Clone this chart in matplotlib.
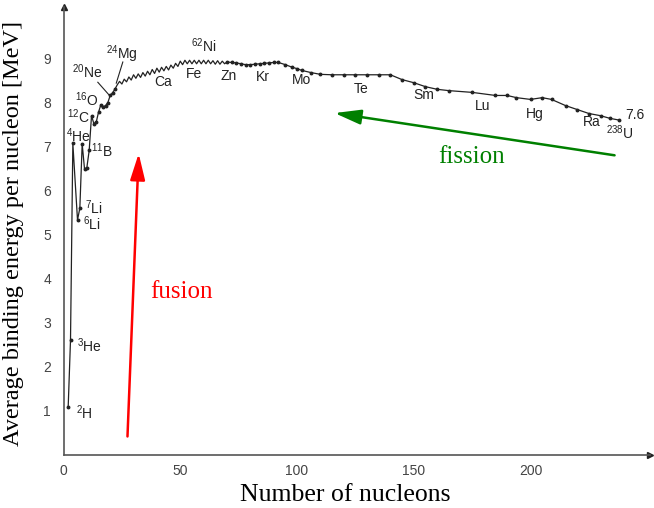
import matplotlib
matplotlib.use("Agg")
import matplotlib.pyplot as plt

# binding energy per nucleon
mass_numbers = [2, 3, 4, 6, 7, 8, 9, 10, 11, 12, 13, 14, 15, 16, 17, 18, 19, 20, 21, 22,
                23, 24, 25, 26, 27, 28, 29, 30, 31, 32, 33, 34, 35, 36, 37, 38, 39, 40,
                41, 42, 43, 44, 45, 46, 47, 48, 49, 50, 51, 52, 53, 54, 55, 56, 57, 58,
                59, 60, 61, 62, 63, 64, 65, 66, 67, 68, 69, 70,
                72, 74, 76, 78, 80, 82, 84, 86, 88, 90, 92, 95, 98, 100, 102, 106,
                110, 115, 120, 125, 130, 135, 140, 145, 150, 155, 160, 165, 175, 185,
                190, 194, 200, 205, 209, 215, 220, 225, 230, 234, 238]
binding_energy = [1.07, 2.60, 7.07, 5.33, 5.60, 7.06, 6.49, 6.52, 6.91, 7.70, 7.52, 7.55,
                  7.78, 7.95, 7.90, 7.93, 8.00, 8.16, 8.22, 8.30,
                  8.40, 8.48, 8.42, 8.53, 8.47, 8.58, 8.51, 8.63, 8.55, 8.65, 8.57, 8.68,
                  8.60, 8.71, 8.63, 8.75, 8.66, 8.78, 8.69, 8.80, 8.72, 8.82, 8.74, 8.85,
                  8.78, 8.89, 8.82, 8.94, 8.86, 8.96, 8.88, 8.96, 8.88, 8.96, 8.88, 8.96,
                  8.88, 8.96, 8.88, 8.96, 8.88, 8.95, 8.87, 8.95, 8.87, 8.94, 8.88, 8.92,
                  8.91, 8.90, 8.88, 8.86, 8.86, 8.87, 8.88, 8.89, 8.90, 8.91, 8.91, 8.86,
                  8.80, 8.77, 8.73, 8.68, 8.64, 8.63, 8.63, 8.63, 8.63, 8.63, 8.63, 8.52,
                  8.45, 8.36, 8.30, 8.27, 8.23, 8.16, 8.16, 8.11, 8.07, 8.11, 8.07, 7.93,
                  7.84, 7.75, 7.70, 7.64, 7.60]

# nuclide labels: (text, A, E, horizontal alignment)
nuclide_labels = [
    (r"$^{2}$H", 5.4, 0.96, "left"),
    (r"$^{3}$He", 5.9, 2.48, "left"),
    (r"$^{6}$Li", 8.3, 5.24, "left"),
    (r"$^{7}$Li", 9.0, 5.62, "left"),
    (r"$^{4}$He", 0.9, 7.25, "left"),
    (r"$^{11}$B", 11.8, 6.91, "left"),
    (r"$^{12}$C", 1.5, 7.67, "left"),
    (r"$^{16}$O", 5.0, 8.06, "left"),
    (r"$^{20}$Ne", 3.6, 8.69, "left"),
    (r"$^{24}$Mg", 18.0, 9.10, "left"),
    ("Ca", 42.5, 8.46, "center"),
    ("Fe", 55.7, 8.65, "center"),
    (r"$^{62}$Ni", 54.5, 9.30, "left"),
    ("Zn", 70.9, 8.61, "center"),
    ("Kr", 85.4, 8.58, "center"),
    ("Mo", 101.8, 8.50, "center"),
    ("Te", 127.4, 8.31, "center"),
    ("Sm", 154.2, 8.16, "center"),
    ("Lu", 179.6, 7.93, "center"),
    ("Hg", 202.0, 7.74, "center"),
    ("Ra", 226.2, 7.55, "center"),
    (r"$^{238}$U", 232.5, 7.32, "left"),
    ("7.6", 240.5, 7.72, "left"),
]

x_ticks = [0, 50, 100, 150, 200]
y_ticks = [1, 2, 3, 4, 5, 6, 7, 8, 9]

plt.rcParams["font.family"] = ["Liberation Sans", "DejaVu Sans"]
plt.rcParams["mathtext.default"] = "regular"

fig = plt.figure(figsize=(6.54, 5.08), dpi=100)
ax = fig.add_axes([63.5 / 654, 1 - 454.5 / 508, (650 - 63.5) / 654, (454.5 - 7) / 508])
ax.set_xlim(0, (650 - 63.5) / 2.335)
ax.set_ylim(0, (454.5 - 7) / 44.0)

# dots only where the points are sparse enough to see them
dotted = [i for i, a in enumerate(mass_numbers) if a <= 22 or a >= 70]
ax.plot(mass_numbers, binding_energy, color="#222222", lw=0.9,
        marker="o", markersize=1.8, markevery=dotted, zorder=3)

for txt, a, e, ha in nuclide_labels:
    ax.text(a, e, txt, fontsize=10, ha=ha, va="center", color="#222222")

# leader lines for Ne and Mg
ax.plot([14.7, 19.7], [8.46, 8.16], color="#222222", lw=0.8)
ax.plot([25.4, 22.6], [8.92, 8.44], color="#222222", lw=0.8)

# fusion / fission arrows
ax.annotate("", xy=(32.2, 6.84), xytext=(27.4, 0.41),
            arrowprops=dict(arrowstyle="-|>,head_length=1.6,head_width=0.45",
                            color="red", lw=1.8, shrinkA=0, shrinkB=0))
ax.text(50.7, 3.69, "fusion", color="red", fontsize=18,
        family="Liberation Serif", ha="center", va="center")
ax.annotate("", xy=(116.1, 7.76), xytext=(236.0, 6.80),
            arrowprops=dict(arrowstyle="-|>,head_length=1.6,head_width=0.45",
                            color="green", lw=1.8, shrinkA=0, shrinkB=0))
ax.text(174.6, 6.76, "fission", color="green", fontsize=18,
        family="Liberation Serif", ha="center", va="center")

# axes with arrow heads
for side in ["top", "right"]:
    ax.spines[side].set_visible(False)
for side in ["left", "bottom"]:
    ax.spines[side].set_color("#555555")
    ax.spines[side].set_linewidth(1.2)
ax.plot(1, 0, ">", color="#222222", markersize=5, transform=ax.transAxes, clip_on=False)
ax.plot(0, 1, "^", color="#222222", markersize=5, transform=ax.transAxes, clip_on=False)

ax.set_xticks(x_ticks)
ax.set_yticks(y_ticks)
ax.tick_params(length=0, labelsize=10, labelcolor="#444444")
ax.tick_params(axis="y", pad=9)
ax.tick_params(axis="x", pad=7)

ax.set_xlabel("Number of nucleons", family="Liberation Serif", fontsize=18.5)
ax.xaxis.set_label_coords(0.48, -0.065)
ax.set_ylabel("Average binding energy per nucleon [MeV]", family="Liberation Serif",
              fontsize=17.5)
ax.yaxis.set_label_coords(-0.068, 0.493)

fig.savefig("out.png", dpi=100)
